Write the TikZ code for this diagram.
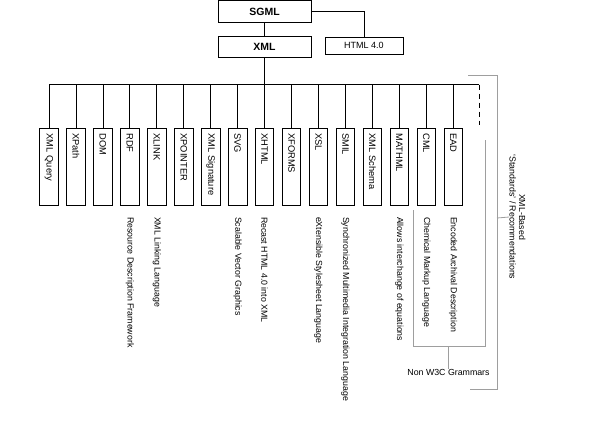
\documentclass[tikz,border=0pt]{standalone}
\usepackage{fontspec}
\setmainfont{Liberation Sans}
\usetikzlibrary{calc}
\begin{document}
\begin{tikzpicture}[x=1pt,y=-1pt,
  topbox/.style={draw, line width=0.8pt, minimum width=93pt, minimum height=21.5pt, inner sep=0pt, font=\fontsize{10.5}{12}\selectfont\bfseries},
  htmlbox/.style={draw, line width=0.8pt, minimum width=78pt, minimum height=17pt, inner sep=0pt, font=\fontsize{9}{10}\selectfont},
  stdbox/.style={draw, line width=0.8pt, rotate=-90, minimum height=18.5pt, text width=67pt, align=left, inner xsep=5pt, inner ysep=0pt, minimum width=77pt, font=\fontsize{9.3}{10}\selectfont},
  desc/.style={rotate=-90, anchor=west, inner sep=0pt, font=\fontsize{8.8}{10}\selectfont},
  conn/.style={line width=0.8pt},
  grey/.style={draw=black!38, line width=0.8pt},
  note/.style={inner sep=0pt, font=\fontsize{8.8}{9.6}\selectfont}
]
\useasboundingbox (0,0) rectangle (600,424);

\node[topbox] (sgml) at (264.5,11.5) {SGML};
\node[topbox] (xml) at (264.5,47) {XML};
\node[htmlbox] (html) at (364,45.5) {HTML 4.0};

\draw[conn] (sgml.south) -- (xml.north);
\draw[conn] (sgml.east) -| (html.north);

\coordinate (bus) at (264.5,84.5);
\coordinate (busR) at (479,84.5);
\draw[conn] (xml.south) -- (bus);

\foreach \i/\lab in {0/XML Query,1/XPath,2/DOM,3/RDF,4/XLINK,5/XPOINTER,6/XML Signature,7/SVG,8/XHTML,9/XFORMS,10/XSL,11/SMIL,12/XML Schema,13/MATHML,14/CML,15/EAD}{
  \node[stdbox, anchor=west] (b\i) at ({49+26.95*\i},128) {\lab};
  \draw[conn] (b\i.west) -- (b\i.west |- bus);
}
\draw[conn] (b0.west |- bus) -- (busR);
\coordinate (dashend) at (479,125);
\draw[conn, dashed, dash pattern=on 5pt off 4pt] (busR) -- (dashend);

\node[desc] (d3) at ($(b3.east)+(0,11)$) {Resource Description Framework};
\node[desc] (d4) at ($(b4.east)+(0,11)$) {XML Linking Language};
\node[desc] (d7) at ($(b7.east)+(0,11)$) {Scalable Vector Graphics};
\node[desc] (d8) at ($(b8.east)+(0,11)$) {Recast HTML 4.0 into XML};
\node[desc] (d10) at ($(b10.east)+(0,11)$) {eXtensible Stylesheet Language};
\node[desc] (d11) at ($(b11.east)+(0,11)$) {Synchronized Multimedia Integration Language};
\node[desc] (d13) at ($(b13.east)+(0,11)$) {Allows interchange of equations};
\node[desc] (d14) at ($(b14.east)+(0,11)$) {Chemical Markup Language};
\node[desc] (d15) at ($(b15.east)+(0,11)$) {Encoded Archival Description};

% inner bracket (Non W3C Grammars)
\coordinate (ib1) at (413,210);
\coordinate (ib2) at (413,346);
\coordinate (ib3) at (485,346);
\coordinate (ib4) at (485,140);
\coordinate (ibm) at (448.5,346);
\node[note] (nonw3c) at (448.5,372) {Non W3C Grammars};
\draw[grey] (ib1) -- (ib2) -- (ib3) -- (ib4);
\draw[grey] (ibm) -- (nonw3c.north);

% outer bracket
\coordinate (ob1) at (468,75);
\coordinate (ob2) at (497,75);
\coordinate (ob3) at (497,389);
\coordinate (ob4) at (470,389);
\coordinate (obm) at (497,218);
\node[note, rotate=-90, align=center] (xmlbased) at (517.5,217) {XML-Based\\`Standards' / Recommendations};
\draw[grey] (ob1) -- (ob2) -- (ob3) -- (ob4);
\draw[grey] (obm) -- (xmlbased.south);
\end{tikzpicture}
\end{document}
